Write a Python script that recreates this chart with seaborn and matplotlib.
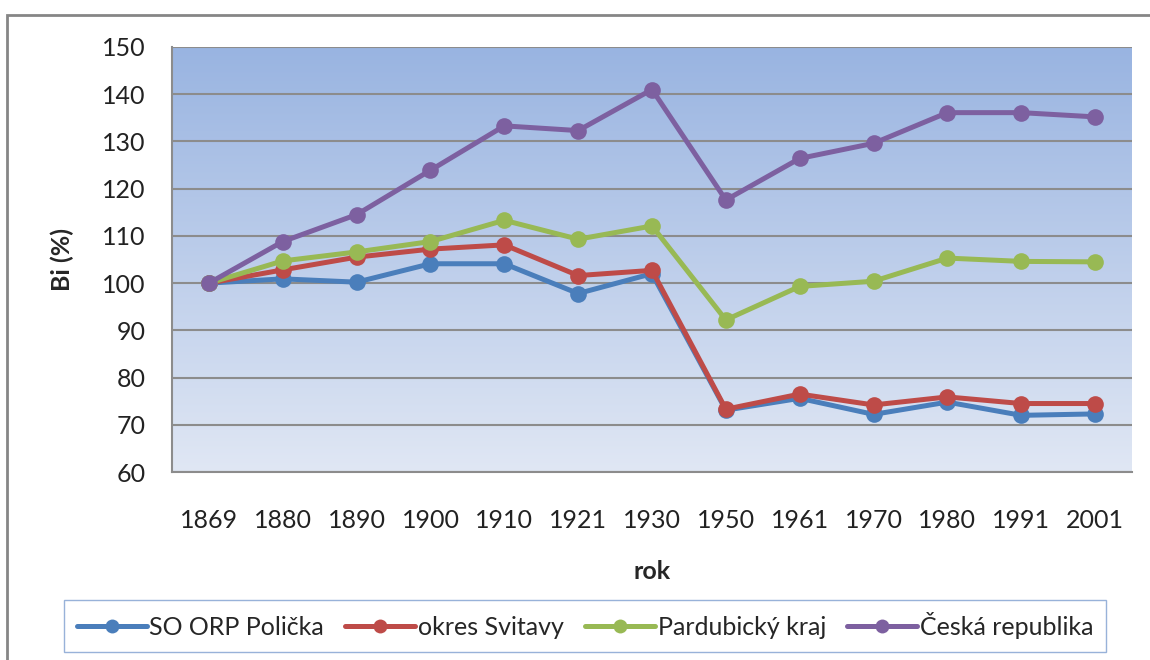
import numpy as np
import pandas as pd
import matplotlib
matplotlib.use("Agg")
import matplotlib.pyplot as plt
import seaborn as sns
from matplotlib.patches import Rectangle

# data
years = ["1869", "1880", "1890", "1900", "1910", "1921", "1930",
         "1950", "1961", "1970", "1980", "1991", "2001"]
series_names = ["SO ORP Polička", "okres Svitavy", "Pardubický kraj", "Česká republika"]
policka = [100, 100.9, 100.2, 104.1, 104.1, 97.8, 102.0, 73.1, 75.6, 72.2, 74.8, 72.0, 72.3]
svitavy = [100, 102.8, 105.5, 107.2, 108.1, 101.6, 102.7, 73.3, 76.5, 74.2, 75.9, 74.5, 74.5]
pardubice = [100, 104.7, 106.6, 108.8, 113.3, 109.3, 112.1, 92.2, 99.3, 100.4, 105.3, 104.6, 104.5]
cr = [100, 108.8, 114.5, 123.9, 133.3, 132.3, 141.0, 117.6, 126.4, 129.6, 136.1, 136.1, 135.2]
colors = ["#4A7EBB", "#BE4B48", "#98B954", "#7D60A0"]

df = pd.DataFrame({
    "rok": years * 4,
    "Bi": policka + svitavy + pardubice + cr,
    "region": np.repeat(series_names, len(years)),
})

sns.set_style("white")
plt.rcParams["font.family"] = ["Lato", "DejaVu Sans"]

fig = plt.figure(figsize=(11.5, 6.6), dpi=100)
W, H = 1150, 660
rect = [172 / W, (H - 472) / H, 960 / W, 425 / H]

# gradient background of the plot area
bg = fig.add_axes(rect, zorder=0)
grad = np.linspace(0, 1, 256).reshape(-1, 1)
cmap = matplotlib.colors.LinearSegmentedColormap.from_list("g", ["#99B4E1", "#E0E7F4"])
bg.imshow(grad, aspect="auto", cmap=cmap, extent=[0, 1, 0, 1])
bg.axis("off")

ax = fig.add_axes(rect, zorder=1)
ax.set_facecolor("none")
sns.lineplot(data=df, x="rok", y="Bi", hue="region", palette=colors, marker="o",
             markersize=12, markeredgewidth=0, linewidth=3.6, sort=False, ax=ax)

ax.set_ylim(60, 150)
ax.set_yticks(range(60, 151, 10))
ax.set_xlim(-0.5, len(years) - 0.5)
ax.set_xticks(range(len(years)))
ax.set_xticklabels(years)
ax.set_xticks(np.arange(-0.5, len(years), 1), minor=True)
ax.tick_params(axis="x", which="major", length=0, pad=27, labelsize=18, colors="#222222")
ax.tick_params(axis="x", which="minor", length=10, width=1.2, color="#8C8C8C", direction="out")
ax.tick_params(axis="y", length=9, width=1.2, color="#8C8C8C", pad=10, labelsize=18,
               colors="#222222", direction="out")
ax.grid(axis="y", color="#8C8C8C", linewidth=1.5)
for side in ["top", "right"]:
    ax.spines[side].set_visible(False)
for side in ["left", "bottom"]:
    ax.spines[side].set_color("#8C8C8C")
    ax.spines[side].set_linewidth(1.5)

ax.set_xlabel("rok", fontsize=18, fontweight="bold", labelpad=20)
ax.set_ylabel("Bi (%)", fontsize=18, fontweight="bold", labelpad=20)

handles, labels = ax.get_legend_handles_labels()
for h in handles:
    h.set_markersize(10)
ax.legend(handles, labels, loc="upper center", bbox_to_anchor=(585 / W, 1 - 587 / H),
          bbox_transform=fig.transFigure, ncol=4, frameon=True, fancybox=False,
          edgecolor="#7F9FD0", fontsize=18, handlelength=2.8, handletextpad=0.1,
          columnspacing=0.85, borderpad=0.5)

# outer chart border
fig.patches.append(Rectangle((7 / W, -0.1), 1.2, (H - 15) / H + 0.1, transform=fig.transFigure,
                             fill=False, edgecolor="#868686", linewidth=2))

fig.savefig("out.png", dpi=100)
